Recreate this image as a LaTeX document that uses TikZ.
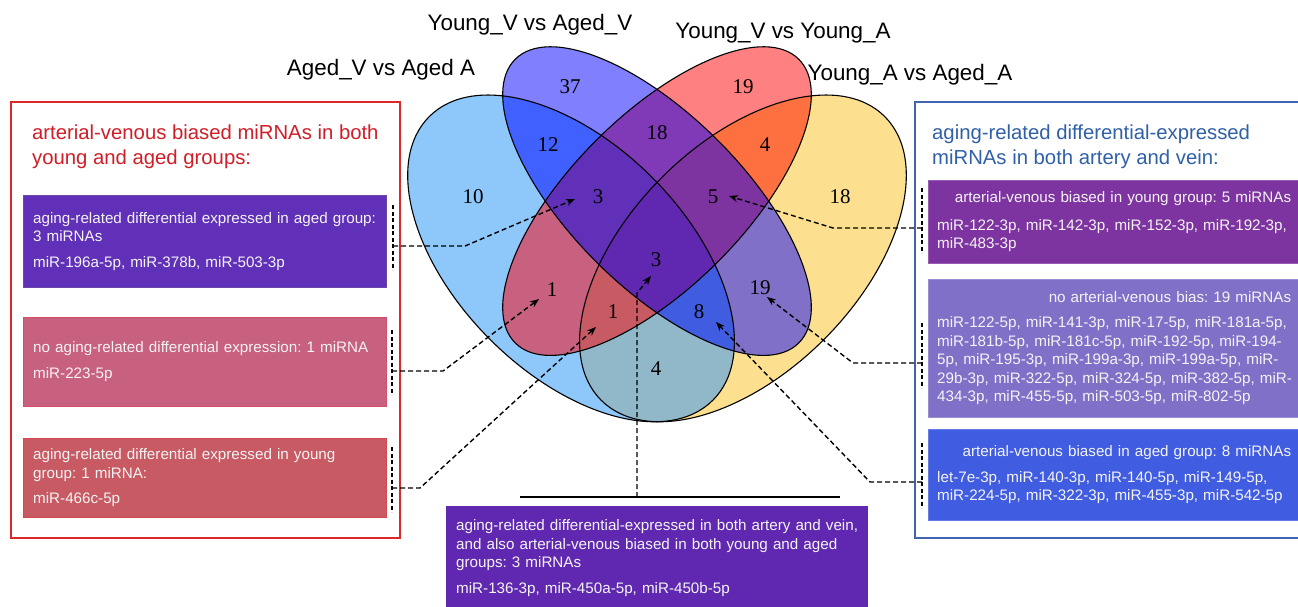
\documentclass[tikz,border=0pt]{standalone}
\usepackage{fontspec}
\setmainfont{Liberation Sans}
\newfontfamily\numfont{Liberation Serif}
\usepackage{tikz}
\usetikzlibrary{arrows, arrows.meta}
\frenchspacing

\definecolor{cA}{RGB}{142,200,250}
\definecolor{cB}{RGB}{128,128,255}
\definecolor{cC}{RGB}{255,128,128}
\definecolor{cD}{RGB}{253,224,143}
\definecolor{cAB}{RGB}{64,96,255}
\definecolor{cBC}{RGB}{128,58,184}
\definecolor{cCD}{RGB}{255,112,64}
\definecolor{cAC}{RGB}{200,96,128}
\definecolor{cBD}{RGB}{128,112,200}
\definecolor{cAD}{RGB}{144,184,200}
\definecolor{cABC}{RGB}{96,48,184}
\definecolor{cBCD}{RGB}{126,52,160}
\definecolor{cACD}{RGB}{200,90,100}
\definecolor{cABD}{RGB}{64,92,224}
\definecolor{cABCD}{RGB}{96,40,176}
\definecolor{titlered}{RGB}{208,30,40}
\definecolor{framered}{RGB}{220,40,40}
\definecolor{titleblue}{RGB}{48,96,168}
\definecolor{frameblue}{RGB}{64,100,176}
\definecolor{boxtext}{RGB}{244,244,244}

\tikzstyle{setlabel} = [inner sep=0pt, font=\fontsize{22.4}{26}\selectfont]
\tikzstyle{count} = [inner sep=0pt, font=\numfont\fontsize{21}{24}\selectfont]
\tikzstyle{title} = [anchor=north west, inner sep=0pt, align=left, font=\fontsize{20.3}{25}\selectfont]
\tikzstyle{leftbox} = [rectangle, anchor=north west, minimum width=363pt, text width=343pt, inner xsep=10pt, inner ysep=0pt, align=left, text=boxtext, font=\fontsize{15.2}{18.5}\selectfont]
\tikzstyle{rightbox} = [rectangle, anchor=north west, minimum width=378pt, text width=360pt, inner xsep=9pt, inner ysep=0pt, align=left, text=boxtext, font=\fontsize{15.2}{18.5}\selectfont]
\tikzstyle{bracket} = [line width=1.3pt, dash pattern=on 4pt off 2.5pt]
\tikzstyle{link} = [line width=1.4pt, dash pattern=on 5pt off 3pt, -{Stealth[length=9pt, width=7pt]}]

\begin{document}
\begin{tikzpicture}[x=1pt, y=1pt]

\fill[white] (0,0) rectangle (1298,-606);
\useasboundingbox (0,0) rectangle (1298,-606);

%% VENN

\begin{scope}[shift={(370.5,-527.7)}, scale=573]
\def\ellA{[rotate around={-45:(0.35,0.47)}] (0.35,0.47) ellipse (0.35 and 0.2)}
\def\ellB{[rotate around={-45:(0.5,0.57)}] (0.5,0.57) ellipse (0.35 and 0.15)}
\def\ellC{[rotate around={45:(0.5,0.57)}] (0.5,0.57) ellipse (0.35 and 0.15)}
\def\ellD{[rotate around={45:(0.65,0.47)}] (0.65,0.47) ellipse (0.35 and 0.2)}
\fill[cA] \ellA; \fill[cB] \ellB; \fill[cC] \ellC; \fill[cD] \ellD;
\begin{scope}\clip \ellA; \fill[cAB] \ellB; \fill[cAC] \ellC; \fill[cAD] \ellD; \end{scope}
\begin{scope}\clip \ellB; \fill[cBC] \ellC; \fill[cBD] \ellD; \end{scope}
\begin{scope}\clip \ellC; \fill[cCD] \ellD; \end{scope}
\begin{scope}\clip \ellA; \clip \ellB; \fill[cABC] \ellC; \fill[cABD] \ellD; \end{scope}
\begin{scope}\clip \ellA; \clip \ellC; \fill[cACD] \ellD; \end{scope}
\begin{scope}\clip \ellB; \clip \ellC; \fill[cBCD] \ellD; \end{scope}
\begin{scope}\clip \ellA; \clip \ellB; \clip \ellC; \fill[cABCD] \ellD; \end{scope}
\draw[line width=1.1pt] \ellA; \draw[line width=1.1pt] \ellB;
\draw[line width=1.1pt] \ellC; \draw[line width=1.1pt] \ellD;
\end{scope}

%% NODES

\node (labA) [setlabel] at (381,-70) {Aged\_V vs Aged A};
\node (labB) [setlabel] at (530,-25) {Young\_V vs Aged\_V};
\node (labC) [setlabel] at (783,-33) {Young\_V vs Young\_A};
\node (labD) [setlabel] at (910,-75) {Young\_A vs Aged\_A};

\node (nB) [count] at (570,-87) {37};
\node (nC) [count] at (743,-87) {19};
\node (nA) [count] at (473,-197) {10};
\node (nAB) [count] at (548,-145) {12};
\node (nBC) [count] at (657,-133) {18};
\node (nCD) [count] at (765,-145) {4};
\node (nD) [count] at (840,-197) {18};
\node (nABC) [count] at (598,-197) {3};
\node (nBCD) [count] at (713,-197) {5};
\node (nABCD) [count] at (656,-260) {3};
\node (nAC) [count] at (552,-290) {1};
\node (nACD) [count] at (613,-312) {1};
\node (nABD) [count] at (699,-312) {8};
\node (nBD) [count] at (760,-288) {19};
\node (nAD) [count] at (656,-369) {4};

\draw[framered, line width=2pt] (11,-102) rectangle (400,-538);
\draw[frameblue, line width=1.5pt] (915,-102) rectangle (1320,-538);

\node (ltitle) [title, text=titlered] at (32,-125) {arterial-venous biased miRNAs in both\\young and aged groups:};
\node (rtitle) [title, text=titleblue] at (932,-125) {aging-related differential-expressed\\miRNAs in both artery and vein:};

\node (box1) [leftbox, fill=cABC, draw=cABC!70!gray, minimum height=92pt] at (23,-195) {aging-related differential expressed in aged group:\\3 miRNAs\\[7pt]miR-196a-5p, miR-378b, miR-503-3p};
\node (box2) [leftbox, fill=cAC, draw=cAC!80!red, minimum height=89pt] at (23,-317) {no aging-related differential expression: 1 miRNA\\[8pt]miR-223-5p};
\node (box3) [leftbox, fill=cACD, draw=cACD!80!red, minimum height=79pt] at (23,-438) {aging-related differential expressed in young\\group: 1 miRNA:\\[6.5pt]miR-466c-5p};

\node (rbox1) [rightbox, fill=cBCD, draw=cBCD!80!white, minimum height=83pt] at (928,-180) {\hspace*{\fill}arterial-venous biased in young group: 5 miRNAs\kern6pt\\[9pt]miR-122-3p, miR-142-3p, miR-152-3p, miR-192-3p,\\miR-483-3p};
\node (rbox2) [rightbox, fill=cBD, draw=cBD!80!white, minimum height=138pt] at (928,-279) {\hspace*{\fill}no arterial-venous bias: 19 miRNAs\kern6pt\\[6.5pt]miR-122-5p, miR-141-3p, miR-17-5p, miR-181a-5p,\\miR-181b-5p, miR-181c-5p, miR-192-5p, miR-194-\\5p, miR-195-3p, miR-199a-3p, miR-199a-5p, miR-\\29b-3p, miR-322-5p, miR-324-5p, miR-382-5p, miR-\\434-3p, miR-455-5p, miR-503-5p, miR-802-5p};
\node (rbox3) [rightbox, fill=cABD, draw=cABD!80!white, minimum height=91pt] at (928,-429) {\hspace*{\fill}arterial-venous biased in aged group: 8 miRNAs\kern6pt\\[7.5pt]let-7e-3p, miR-140-3p, miR-140-5p, miR-149-5p,\\miR-224-5p, miR-322-3p, miR-455-3p, miR-542-5p};

\node (bbox) [leftbox, fill=cABCD, minimum width=422pt, text width=402pt, minimum height=104pt] at (446,-506) {aging-related differential-expressed in both artery and vein,\\and also arterial-venous biased in both young and aged\\groups: 3 miRNAs\\[7.5pt]miR-136-3p, miR-450a-5p, miR-450b-5p};

%% BRACKETS

\coordinate (b1top) at (393,-205); \coordinate (b1bot) at (393,-270); \coordinate (b1) at (393,-246); \coordinate (k1) at (465,-246); \coordinate (tABC) at (575,-199);
\coordinate (b2top) at (392,-330); \coordinate (b2bot) at (392,-395); \coordinate (b2) at (392,-371); \coordinate (k2) at (443,-371); \coordinate (tAC) at (539,-299);
\coordinate (b3top) at (392,-447); \coordinate (b3bot) at (392,-512); \coordinate (b3) at (392,-488); \coordinate (k3) at (420,-488); \coordinate (tACD) at (596,-327);
\coordinate (r1top) at (922,-188); \coordinate (r1bot) at (922,-253); \coordinate (r1) at (922,-228); \coordinate (q1) at (833,-228); \coordinate (tBCD) at (729,-196);
\coordinate (r2top) at (922,-323); \coordinate (r2bot) at (922,-388); \coordinate (r2) at (922,-363); \coordinate (q2) at (853,-363); \coordinate (tBD) at (767,-297);
\coordinate (r3top) at (922,-443); \coordinate (r3bot) at (922,-508); \coordinate (r3) at (922,-482); \coordinate (q3) at (870,-482); \coordinate (tABD) at (716,-322);
\coordinate (basel) at (520,-497); \coordinate (baser) at (840,-497); \coordinate (base) at (637,-497); \coordinate (kb) at (637,-293); \coordinate (tABCD) at (651,-276);

\draw [bracket] (b1top) -- (b1bot);
\draw [bracket] (b2top) -- (b2bot);
\draw [bracket] (b3top) -- (b3bot);
\draw [bracket] (r1top) -- (r1bot);
\draw [bracket] (r2top) -- (r2bot);
\draw [bracket] (r3top) -- (r3bot);
\draw [line width=2pt] (basel) -- (baser);

%% ARROWS

\draw [link] (b1) -- (k1) -- (tABC);
\draw [link] (b2) -- (k2) -- (tAC);
\draw [link] (b3) -- (k3) -- (tACD);
\draw [link] (r1) -- (q1) -- (tBCD);
\draw [link] (r2) -- (q2) -- (tBD);
\draw [link] (r3) -- (q3) -- (tABD);
\draw [link] (base) -- (kb) -- (tABCD);

\end{tikzpicture}
\end{document}
